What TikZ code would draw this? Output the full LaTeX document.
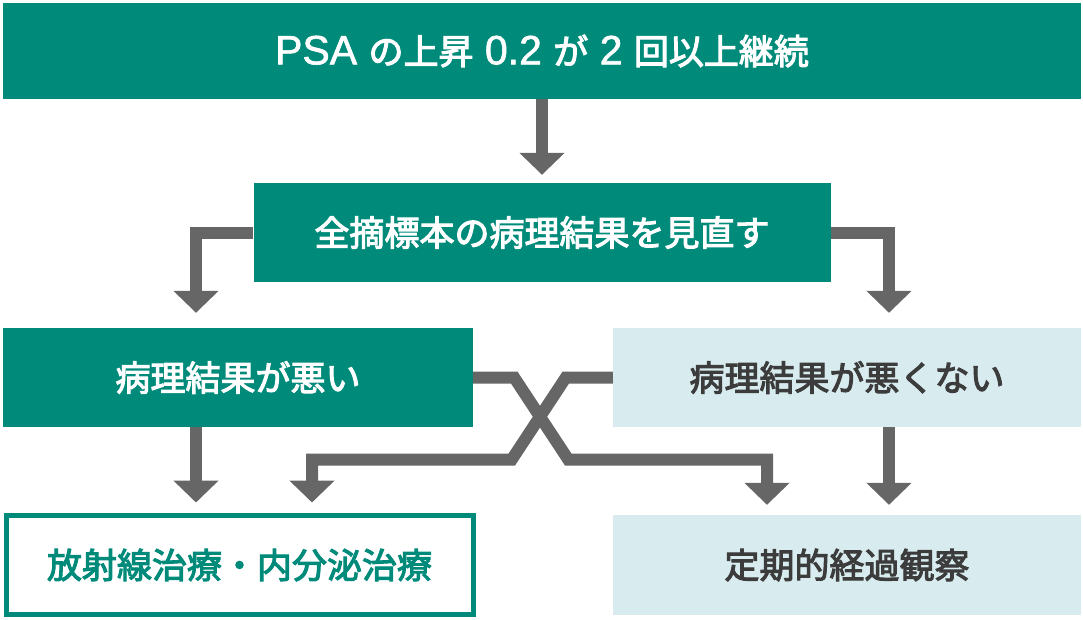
\documentclass[tikz,border=0pt]{standalone}
\usepackage{fontspec}
\setmainfont{Noto Sans CJK JP}[FakeBold=3]
\newfontfamily\latinfont{Liberation Sans}[FakeBold=1.5]
\newcommand\lt[1]{{\fontsize{41}{42}\latinfont #1}}
\usetikzlibrary{arrows.meta}
\definecolor{tealbox}{HTML}{008A7A}
\definecolor{palebox}{HTML}{D8EBEE}
\definecolor{arrowgray}{HTML}{666666}
\definecolor{textgray}{HTML}{3C3C3C}

\begin{document}
\begin{tikzpicture}[x=1pt,y=-1pt,
        box/.style={minimum height=99pt,inner sep=0pt,font=\fontsize{35}{42}\selectfont},
        darkbox/.style={box,fill=tealbox,text=white},
        lightbox/.style={box,fill=palebox,text=textgray},
        arr/.style={draw=arrowgray,line width=12pt,-{Triangle[width=44pt,length=22pt]}}]
        \useasboundingbox (0,0) rectangle (1083,619);
        % boxes
        \node[darkbox,minimum width=1078pt,minimum height=96pt] (psa) at (542,51) {\lt{PSA }の上昇\lt{ 0.2 }が\lt{ 2 }回以上継続};
        \node[darkbox,minimum width=577pt] (review) at (542,232.5) {全摘標本の病理結果を見直す};
        \node[darkbox,minimum width=470pt] (bad) at (238,377.5) {病理結果が悪い};
        \node[lightbox,minimum width=468pt] (notbad) at (847,377.5) {病理結果が悪くない};
        \node[box,draw=tealbox,line width=5pt,text=tealbox,minimum width=467pt] (treat) at (239.5,565) {放射線治療・内分泌治療};
        \node[lightbox,minimum width=468pt,minimum height=100pt] (watch) at (847,565) {定期的経過観察};
        % arrows
        \draw[arr,shorten >=8pt] (psa.south) -- (review.north);
        \draw[arr,shorten >=15pt] (review.west) -| ([xshift=-42pt]bad.north);
        \draw[arr,shorten >=15pt] (review.east) -| ([xshift=42pt]notbad.north);
        \draw[arr,shorten >=10.5pt] ([xshift=-42pt]bad.south) -- ([xshift=-42pt]bad.south |- treat.north);
        \draw[arr,shorten >=10pt] ([xshift=42pt]notbad.south) -- ([xshift=42pt]notbad.south |- watch.north);
        % crossing
        \draw[arr,shorten >=10pt] (bad.east) -- ++(41,0) -- ++(54,82) -| ([xshift=-80pt]watch.north);
        \draw[arr,shorten >=10.5pt] (notbad.west) -- ++(-47,0) -- ++(-54,82) -| ([xshift=72.5pt]treat.north);
\end{tikzpicture}
\end{document}
